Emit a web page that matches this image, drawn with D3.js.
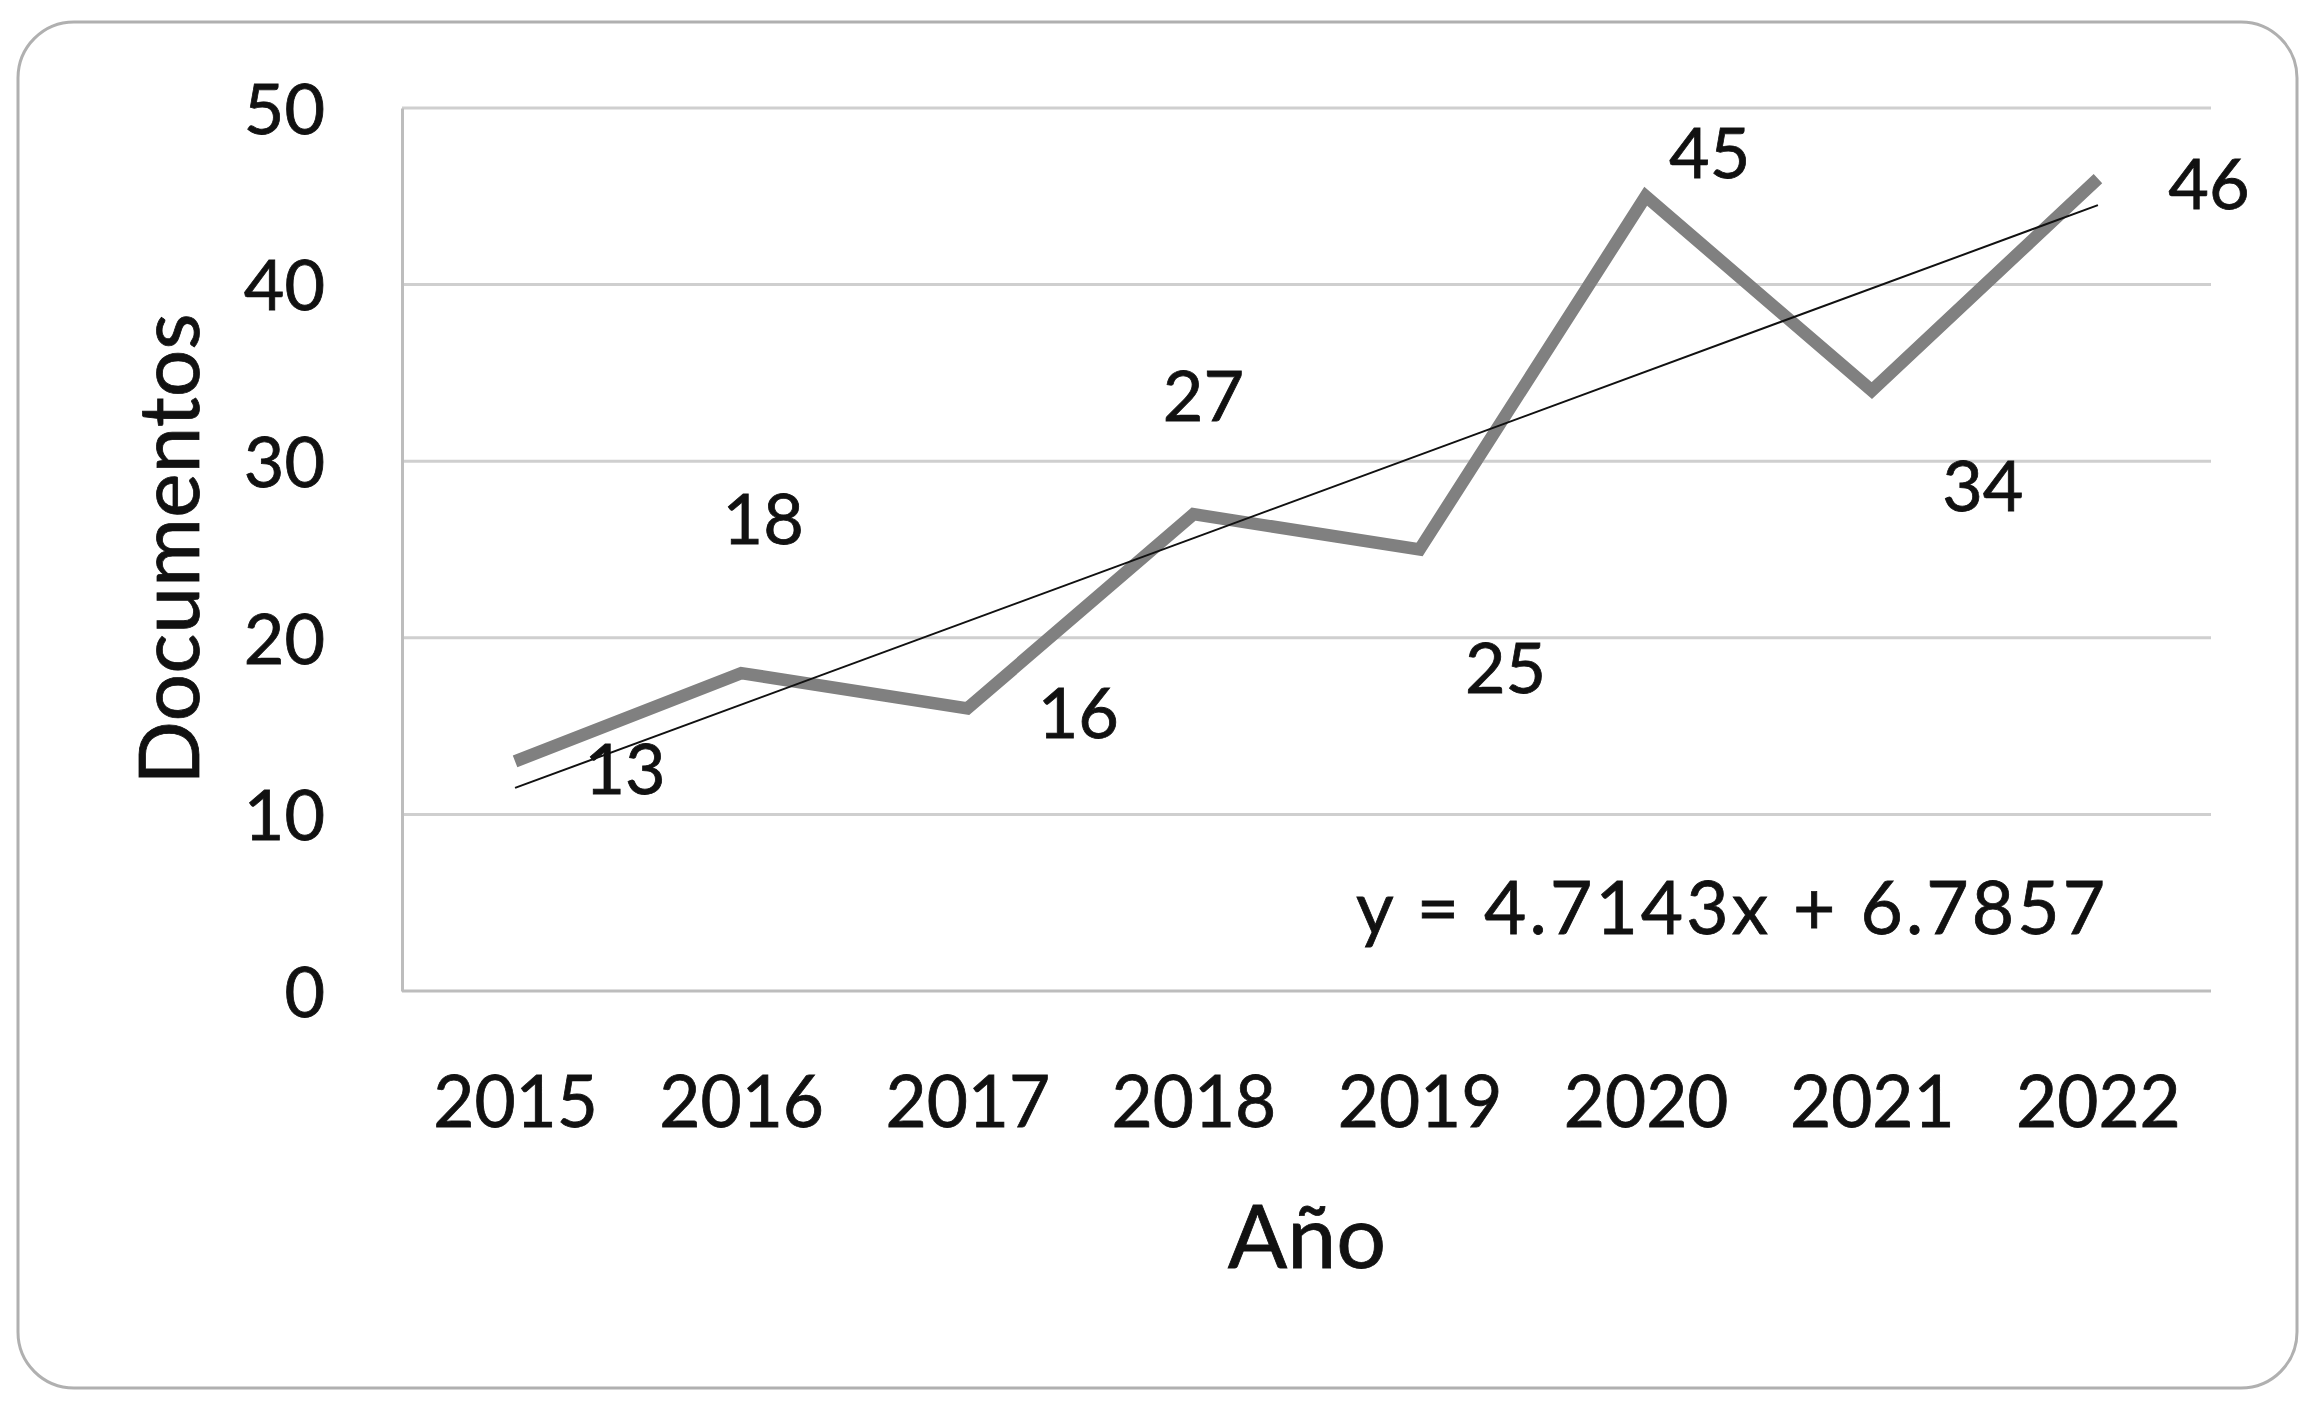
<!DOCTYPE html>
<html>
<head>
<meta charset="utf-8">
<script src="https://cdn.jsdelivr.net/npm/d3@7"></script>
<style>
  html, body { margin: 0; padding: 0; background: #ffffff; }
  svg { display: block; }
  text { font-family: Lato, "Open Sans", sans-serif; fill: #111111; stroke: #111111; stroke-width: 0.8px; }
</style>
</head>
<body>
<svg id="chart" width="2316" height="1406"></svg>
<script>
// ---- data ----
const years = ["2015", "2016", "2017", "2018", "2019", "2020", "2021", "2022"];
const documentos = [13, 18, 16, 27, 25, 45, 34, 46];
const yTicks = [0, 10, 20, 30, 40, 50];
const yTitle = "Documentos";
const xTitle = "Año";
// label nudges (layout, pixels) as placed manually in the original
const labelNudgeX = [110, 22, 111, 10, 86, 64, 111, 111];
const labelNudgeY = [7, -154, 4, -118, 118, -44, 95, 5];

// ---- layout ----
const plot = { left: 402, right: 2211, top: 108, bottom: 991 };
const svg = d3.select("#chart");

// outer rounded frame
svg.append("rect")
  .attr("x", 18).attr("y", 22)
  .attr("width", 2297 - 18).attr("height", 1388 - 22)
  .attr("rx", 56).attr("ry", 56)
  .attr("fill", "#ffffff")
  .attr("stroke", "#b0b0b0").attr("stroke-width", 3);

const x = d3.scalePoint().domain(years).range([plot.left, plot.right]).padding(0.5);
const y = d3.scaleLinear().domain([0, 50]).range([plot.bottom, plot.top]);

// gridlines
svg.append("g").selectAll("line").data(yTicks.filter(d => d > 0)).join("line")
  .attr("x1", plot.left).attr("x2", plot.right)
  .attr("y1", d => y(d)).attr("y2", d => y(d))
  .attr("stroke", "#cfcfcf").attr("stroke-width", 3);

// y axis
const yAxis = d3.axisLeft(y).tickValues(yTicks).tickSize(0).tickPadding(77);
const gy = svg.append("g").attr("transform", `translate(${plot.left},0)`).call(yAxis);
gy.select(".domain").attr("stroke", "#bdbdbd").attr("stroke-width", 3);
gy.selectAll("text").style("font-size", "70px").attr("fill", "#111111")
  .attr("dy", "0.36em");

// x axis
const xAxis = d3.axisBottom(x).tickSize(0).tickPadding(86);
const gx = svg.append("g").attr("transform", `translate(0,${plot.bottom})`).call(xAxis);
gx.select(".domain").attr("stroke", "#bdbdbd").attr("stroke-width", 3)
  .attr("d", `M${plot.left},0H${plot.right}`);
gx.selectAll("text").style("font-size", "71px").attr("fill", "#111111");

// series line
const pts = years.map((yr, i) => [yr, documentos[i]]);
const line = d3.line().x(d => x(d[0])).y(d => y(d[1]));
svg.append("path").datum(pts)
  .attr("d", line)
  .attr("fill", "none")
  .attr("stroke", "#808080")
  .attr("stroke-width", 12.5)
  .attr("stroke-linejoin", "miter");

// linear trendline from least squares
const n = documentos.length;
const xs = d3.range(1, n + 1);
const mx = d3.mean(xs), my = d3.mean(documentos);
const slope = d3.sum(xs, (xi, i) => (xi - mx) * (documentos[i] - my)) / d3.sum(xs, xi => (xi - mx) ** 2);
const intercept = my - slope * mx;
svg.append("line")
  .attr("x1", x(years[0])).attr("y1", y(slope * 1 + intercept))
  .attr("x2", x(years[n - 1])).attr("y2", y(slope * n + intercept))
  .attr("stroke", "#111111").attr("stroke-width", 2);

// data labels
svg.append("g").selectAll("text").data(pts).join("text")
  .attr("x", (d, i) => x(d[0]) + labelNudgeX[i])
  .attr("y", (d, i) => y(d[1]) + labelNudgeY[i])
  .attr("text-anchor", "middle")
  .attr("dy", "0.36em")
  .style("font-size", "70px")
  .text(d => d[1]);

// trendline equation
svg.append("text")
  .attr("x", 1356).attr("y", 934)
  .attr("textLength", 749).attr("lengthAdjust", "spacing")
  .style("font-size", "73px")
  .text(`y = ${slope.toFixed(4)}x + ${intercept.toFixed(4)}`);

// axis titles
svg.append("text")
  .attr("transform", `translate(199,549) rotate(-90)`)
  .attr("text-anchor", "middle")
  .style("font-size", "84px")
  .text(yTitle);

svg.append("text")
  .attr("x", 1307).attr("y", 1268)
  .attr("text-anchor", "middle")
  .style("font-size", "88px")
  .text(xTitle);
</script>
</body>
</html>
